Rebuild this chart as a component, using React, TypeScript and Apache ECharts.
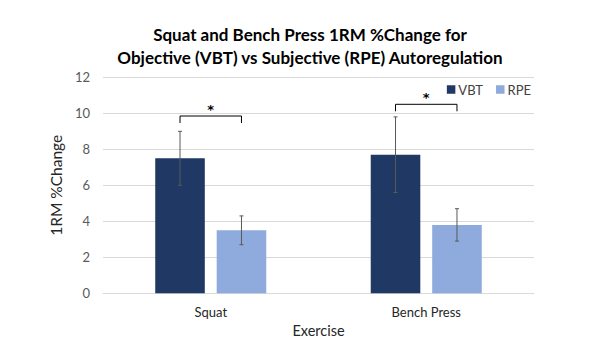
import React, { useEffect, useRef } from "react";
import * as echarts from "echarts";

const categories = ["Squat", "Bench Press"];
const seriesNames = ["VBT", "RPE"];
const vbtValues = [7.5, 7.7];
const rpeValues = [3.5, 3.8];
const vbtErrLow = [6.0, 5.6];
const vbtErrHigh = [9.0, 9.8];
const rpeErrLow = [2.7, 2.9];
const rpeErrHigh = [4.3, 4.7];
const bracketLevels = [9.85, 10.5];
const bracketMarks = ["*", "*"];
const yTicks = [0, 2, 4, 6, 8, 10, 12];

const COLORS = ["#203864", "#8FAADC"];
const BAR_W = 0.23;
const BAR_GAP = 0.24;
const FONT = "Lato";

export default function App() {
  const ref = useRef<HTMLDivElement>(null);
  useEffect(() => {
    if (!ref.current) return;
    const chart = echarts.init(ref.current, null, { renderer: "svg" });
    const offsetOf = (api: any, s: number) => {
      const band = api.size([1, 0])[0];
      const off = (band * BAR_W * (1 + BAR_GAP)) / 2;
      return s === 0 ? -off : off;
    };
    const errSeries = (s: number, lows: number[], highs: number[]) => ({
      type: "custom",
      silent: true,
      z: 5,
      data: categories.map((_, i) => [i, lows[i], highs[i]]),
      encode: { x: 0, y: [1, 2] },
      renderItem: (params: any, api: any) => {
        const i = api.value(0);
        const lo = api.coord([i, api.value(1)]);
        const hi = api.coord([i, api.value(2)]);
        const x = lo[0] + offsetOf(api, s);
        const cap = 2;
        const st = { stroke: "#595959", lineWidth: 1 };
        return {
          type: "group",
          children: [
            { type: "line", shape: { x1: x, y1: lo[1], x2: x, y2: hi[1] }, style: st },
            { type: "line", shape: { x1: x - cap, y1: lo[1], x2: x + cap, y2: lo[1] }, style: st },
            { type: "line", shape: { x1: x - cap, y1: hi[1], x2: x + cap, y2: hi[1] }, style: st },
          ],
        };
      },
    });
    chart.setOption({
      animation: false,
      color: COLORS,
      graphic: [
        {
          type: "text",
          x: 310,
          y: 46,
          style: {
            text: "Squat and Bench Press 1RM %Change for\nObjective (VBT) vs Subjective (RPE) Autoregulation",
            textAlign: "center",
            textVerticalAlign: "middle",
            font: `bold 17px ${FONT}`,
            lineHeight: 23,
            fill: "#000000",
          },
        },
      ],
      legend: {
        data: seriesNames,
        right: 60,
        top: 78,
        itemWidth: 8.5,
        itemHeight: 8.5,
        itemGap: 13,
        icon: "rect",
        textStyle: { fontFamily: FONT, fontSize: 13, color: "#404040", padding: [0, 0, 0, -2] },
      },
      grid: { left: 103, right: 62, top: 77.3, bottom: 58.7 },
      xAxis: {
        type: "category",
        data: categories,
        name: "Exercise",
        nameLocation: "middle",
        nameGap: 30,
        nameTextStyle: { fontFamily: FONT, fontSize: 14.5, color: "#262626" },
        axisLine: { lineStyle: { color: "#d9d9d9" } },
        axisTick: { show: false },
        axisLabel: { fontFamily: FONT, fontSize: 13, color: "#262626", margin: 12 },
      },
      yAxis: {
        type: "value",
        min: yTicks[0],
        max: yTicks[yTicks.length - 1],
        interval: yTicks[1] - yTicks[0],
        name: "1RM %Change",
        nameLocation: "middle",
        nameGap: 33,
        nameTextStyle: { fontFamily: FONT, fontSize: 15.5, color: "#262626" },
        axisLine: { show: false },
        axisTick: { show: false },
        splitLine: { lineStyle: { color: "#d9d9d9" } },
        axisLabel: { fontFamily: FONT, fontSize: 13, color: "#595959", margin: 13 },
      },
      series: [
        { name: seriesNames[0], type: "bar", data: vbtValues, barWidth: `${BAR_W * 100}%`, barGap: `${BAR_GAP * 100}%` },
        { name: seriesNames[1], type: "bar", data: rpeValues, barWidth: `${BAR_W * 100}%`, barGap: `${BAR_GAP * 100}%` },
        errSeries(0, vbtErrLow, vbtErrHigh),
        errSeries(1, rpeErrLow, rpeErrHigh),
        {
          type: "custom",
          silent: true,
          z: 6,
          itemStyle: { color: "#000000" },
          data: categories.map((_, i) => [i, bracketLevels[i]]),
          encode: { x: 0, y: 1 },
          renderItem: (params: any, api: any) => {
            const i = api.value(0);
            const p = api.coord([i, api.value(1)]);
            const x1 = p[0] + offsetOf(api, 0);
            const x2 = p[0] + offsetOf(api, 1);
            const y = p[1];
            const st = { stroke: "#000000", lineWidth: 1, fill: "none" };
            return {
              type: "group",
              children: [
                { type: "polyline", shape: { points: [[x1, y + 7], [x1, y], [x2, y], [x2, y + 7]] }, style: st },
                {
                  type: "text",
                  x: (x1 + x2) / 2,
                  y: y - 7,
                  style: {
                    text: bracketMarks[params.dataIndex],
                    textAlign: "center",
                    textVerticalAlign: "middle",
                    font: `bold 13px "DejaVu Sans"`,
                    fill: "#000000",
                  },
                },
              ],
            };
          },
        },
      ],
    });
    return () => chart.dispose();
  }, []);
  return <div ref={ref} style={{ width: 596, height: 352, margin: -8 }} />;
}
